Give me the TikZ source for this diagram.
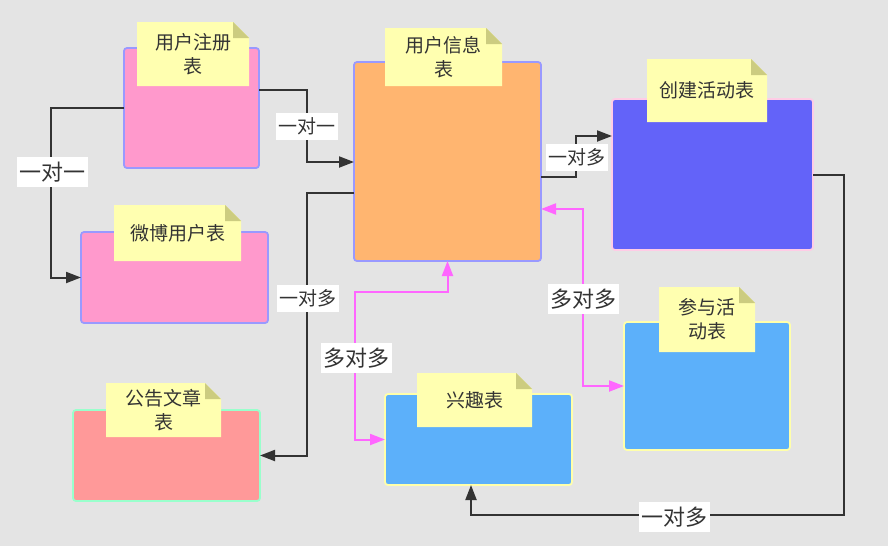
\documentclass[tikz,border=0pt]{standalone}
\usepackage{fontspec}
\setmainfont{Noto Sans CJK SC}
\usetikzlibrary{arrows.meta,calc}

\definecolor{canvas}{HTML}{E4E4E4}
\definecolor{ink}{HTML}{333333}
\definecolor{notebg}{HTML}{FFFFB0}
\definecolor{notefold}{HTML}{CCCC80}
\definecolor{pinkfill}{HTML}{FF99CC}
\definecolor{orangefill}{HTML}{FFB570}
\definecolor{violetfill}{HTML}{6363F9}
\definecolor{skyfill}{HTML}{5CB0FA}
\definecolor{salmonfill}{HTML}{FF9999}
\definecolor{lavline}{HTML}{9999FF}
\definecolor{rosyline}{HTML}{FFCCE6}
\definecolor{creamline}{HTML}{FFFFAA}
\definecolor{mintline}{HTML}{99FFCC}
\definecolor{magentaline}{HTML}{FF66FF}

\pgfdeclarelayer{boxlayer}
\pgfdeclarelayer{notelayer}
\pgfsetlayers{boxlayer,notelayer,main}

\tikzset{
  tablebox/.style={rectangle, rounded corners=3pt, line width=1.8pt,
    anchor=north west, inner sep=0pt, outer sep=0pt},
  notetext/.style={anchor=north west, inner sep=0pt, outer sep=0pt, align=center,
    text=ink, font=\fontsize{19}{24}\selectfont},
  smalllabel/.style={fill=white, inner sep=0pt, text=ink,
    minimum width=62pt, minimum height=27pt, font=\fontsize{19}{19}\selectfont},
  biglabel/.style={fill=white, inner sep=0pt, text=ink,
    minimum width=71pt, minimum height=30pt, font=\fontsize{22}{22}\selectfont},
  link/.style={draw=ink, line width=2pt,
    -{Triangle[length=15pt,width=11pt]}},
  manylink/.style={draw=magentaline, line width=2pt,
    {Triangle[length=15pt,width=11pt]}-{Triangle[length=15pt,width=11pt]}},
}

% sticky note behind a text node: cut top-right corner plus fold
\newcommand\stickynote[1]{%
  \begin{pgfonlayer}{notelayer}
    \fill[notebg] (#1.south west) -- (#1.north west)
      -- ($(#1.north east)+(-16,0)$) -- ($(#1.north east)+(0,16)$)
      -- (#1.south east) -- cycle;
    \fill[notefold] ($(#1.north east)+(-16,0)$) -- ($(#1.north east)+(-16,16)$)
      -- ($(#1.north east)+(0,16)$) -- cycle;
  \end{pgfonlayer}}

\begin{document}
\begin{tikzpicture}[x=1pt,y=-1pt]
\useasboundingbox (0,0) rectangle (888,546);

\begin{pgfonlayer}{boxlayer}
  \fill[canvas] (0,0) rectangle (888,546);
  \node[tablebox, fill=pinkfill, draw=lavline, minimum width=135pt, minimum height=120pt] (reg) at (124,48) {};
  \node[tablebox, fill=pinkfill, draw=lavline, minimum width=187pt, minimum height=91pt] (weibo) at (81,232) {};
  \node[tablebox, fill=orangefill, draw=lavline, minimum width=187pt, minimum height=199pt] (info) at (354,62) {};
  \node[tablebox, fill=violetfill, draw=rosyline, minimum width=201pt, minimum height=151pt] (create) at (612,99) {};
  \node[tablebox, fill=skyfill, draw=creamline, minimum width=166pt, minimum height=128pt] (join) at (624,322) {};
  \node[tablebox, fill=skyfill, draw=creamline, minimum width=187pt, minimum height=91pt] (interest) at (385,394) {};
  \node[tablebox, fill=salmonfill, draw=mintline, minimum width=187pt, minimum height=91pt] (notice) at (73,410) {};
\end{pgfonlayer}

% table titles
\node[notetext, minimum width=112pt, minimum height=64pt] (regN) at (137,22) {用户注册\\表};
\node[notetext, minimum width=127pt, minimum height=56pt] (weiboN) at (114,205) {微博用户表};
\node[notetext, minimum width=117pt, minimum height=58pt] (infoN) at (385,28) {用户信息\\表};
\node[notetext, minimum width=120pt, minimum height=63pt] (createN) at (647,59) {创建活动表};
\node[notetext, minimum width=96pt, minimum height=65pt] (joinN) at (659,287) {参与活\\动表};
\node[notetext, minimum width=115pt, minimum height=54pt] (interestN) at (417,373) {兴趣表};
\node[notetext, minimum width=115pt, minimum height=54pt] (noticeN) at (106,383) {公告文章\\表};
\stickynote{regN}
\stickynote{weiboN}
\stickynote{infoN}
\stickynote{createN}
\stickynote{joinN}
\stickynote{interestN}
\stickynote{noticeN}

% one-to-one / one-to-many relations
\draw[link] ($(reg.north east)+(0,42)$) -- ++(48,0) |- ($(info.north west)+(0,100)$);
\draw[link] ($(reg.north west)+(0,60)$) -- ++(-73,0) |- (weibo.west);
\draw[link] ($(info.north west)+(0,131)$) -- ++(-47,0) |- (notice.east);
\draw[link] ($(info.north east)+(0,115)$) -- ++(35,0) |- ($(create.north west)+(0,37)$);
\draw[link] ($(create.north east)+(0,76)$) -- ++(31,0) |- ($(interest.south west)+(86,30)$)
  -- ($(interest.south west)+(86,0)$);

% many-to-many relations
\draw[manylink] (interest.west) -- ++(-30,0) |- ($(info.south)+(0,31)$) -- (info.south);
\draw[manylink] ($(info.north east)+(0,147)$) -- ++(42,0) |- (join.west);

% relation labels
\node[smalllabel] (l1) at (307,126) {一对一};
\node[biglabel] (l2) at (52,172) {一对一};
\node[smalllabel] (l3) at (308,298) {一对多};
\node[smalllabel] (l4) at (577,157) {一对多};
\node[biglabel] (l5) at (674,517) {一对多};
\node[biglabel] (l6) at (356,358) {多对多};
\node[biglabel] (l7) at (583,299) {多对多};
\end{tikzpicture}
\end{document}
